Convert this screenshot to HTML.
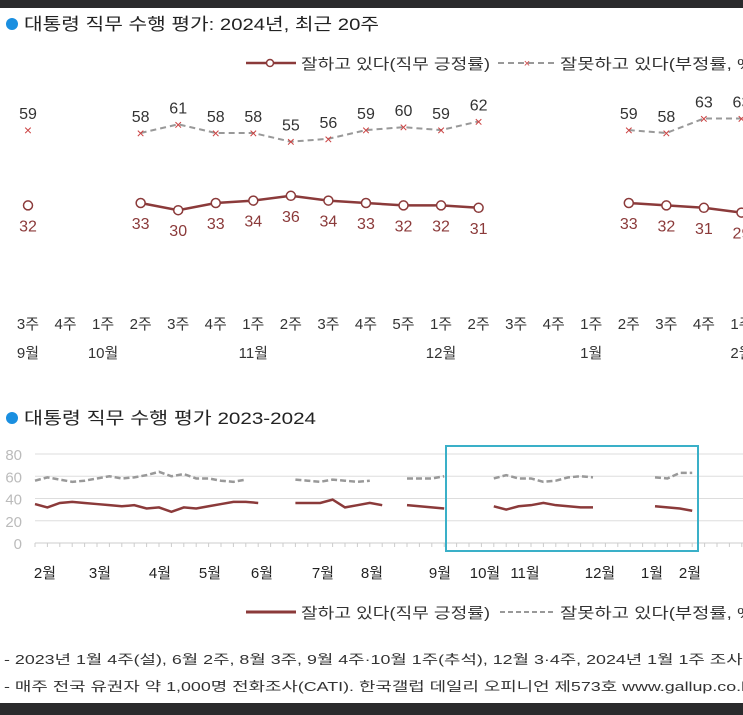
<!DOCTYPE html>
<html><head><meta charset="utf-8"><style>
body{margin:0;width:743px;height:715px;overflow:hidden;background:#fff;font-family:"Liberation Sans","Noto Sans CJK KR",sans-serif;}
svg{display:block}
</style></head><body>
<svg id="s" width="743" height="715" font-family="Liberation Sans, Noto Sans CJK KR, sans-serif">
<rect x="0" y="0" width="743" height="8" fill="#2a2a2c"/>
<rect x="0" y="703" width="743" height="12" fill="#2a2a2c"/>
<circle cx="12" cy="24" r="6" fill="#1a8fe0"/>
<text x="24" y="30" font-size="17" fill="#222" textLength="355" lengthAdjust="spacingAndGlyphs">대통령 직무 수행 평가: 2024년, 최근 20주</text>
<g>
<line x1="246" y1="63" x2="296" y2="63" stroke="#8b3a3a" stroke-width="2.5"/>
<circle cx="270" cy="63" r="3.5" fill="#fff" stroke="#8b3a3a" stroke-width="1.5"/>
<text x="301" y="69" font-size="15" fill="#333" textLength="189" lengthAdjust="spacingAndGlyphs">잘하고 있다(직무 긍정률)</text>
<line x1="498" y1="63" x2="556" y2="63" stroke="#999" stroke-width="2" stroke-dasharray="6,4"/>
<text x="527" y="67" font-size="11" fill="#c44" text-anchor="middle">×</text>
<text x="560" y="69" font-size="15" fill="#333" textLength="200" lengthAdjust="spacingAndGlyphs">잘못하고 있다(부정률, %)</text>
</g>
<g id="topG"></g>
<circle cx="12" cy="418" r="6" fill="#1a8fe0"/>
<text x="24" y="424" font-size="17" fill="#222" textLength="292" lengthAdjust="spacingAndGlyphs">대통령 직무 수행 평가 2023-2024</text>
<g id="bot"></g>
<rect x="446" y="446" width="252" height="105" fill="none" stroke="#3ab0c8" stroke-width="2"/>
<g>
<line x1="246" y1="612" x2="296" y2="612" stroke="#8b3a3a" stroke-width="3"/>
<text x="301" y="618" font-size="15" fill="#333" textLength="189" lengthAdjust="spacingAndGlyphs">잘하고 있다(직무 긍정률)</text>
<line x1="500" y1="612" x2="556" y2="612" stroke="#999" stroke-width="2" stroke-dasharray="5,3"/>
<text x="560" y="618" font-size="15" fill="#333" textLength="200" lengthAdjust="spacingAndGlyphs">잘못하고 있다(부정률, %)</text>
</g>
<text x="4" y="664" font-size="13" fill="#333" textLength="760" lengthAdjust="spacingAndGlyphs">- 2023년 1월 4주(설), 6월 2주, 8월 3주, 9월 4주·10월 1주(추석), 12월 3·4주, 2024년 1월 1주 조사 쉼</text>
<text x="4" y="691" font-size="13" fill="#333" textLength="752" lengthAdjust="spacingAndGlyphs">- 매주 전국 유권자 약 1,000명 전화조사(CATI). 한국갤럽 데일리 오피니언 제573호 www.gallup.co.kr</text>
</svg>
<script>
const weeks=["3주","4주","1주","2주","3주","4주","1주","2주","3주","4주","5주","1주","2주","3주","4주","1주","2주","3주","4주","1주"];
const months=[["9월",0],["10월",2],["11월",6],["12월",11],["1월",15],["2월",19]];
const approve=[32,null,null,33,30,33,34,36,34,33,32,32,31,null,null,null,33,32,31,29];
const disapprove=[59,null,null,58,61,58,58,55,56,59,60,59,62,null,null,null,59,58,63,63];
const approve2=[35,32,36,37,36,35,34,33,34,31,32,28,32,31,33,35,37,37,36,null,null,36,36,36,39,32,34,36,34,null,34,33,32,31,null,null,null,33,30,33,34,36,34,33,32,32,null,null,null,null,33,32,31,29];
const disapprove2=[56,59,57,55,56,58,60,58,59,61,64,60,62,58,58,56,55,57,null,null,null,57,56,55,57,56,55,56,null,null,58,58,58,60,null,null,null,58,61,58,58,55,56,59,60,59,null,null,null,null,59,58,63,63];
const yTicks=[0,20,40,60,80];
const bMonths=[["2월",45],["3월",100],["4월",160],["5월",210],["6월",262],["7월",323],["8월",372],["9월",440],["10월",485],["11월",525],["12월",600],["1월",652],["2월",690]];
const NS="http://www.w3.org/2000/svg";
function mk(p,t,a){const e=document.createElementNS(NS,t);for(const k in a)e.setAttribute(k,a[k]);p.appendChild(e);return e;}
const topG=document.getElementById('topG');
const tx=i=>28+37.55*i;
const ya=v=>203-(v-33)*2.4;
const yd=v=>133-(v-58)*2.9;
function segs(arr,fx,fy){const out=[];let cur=[];arr.forEach((v,i)=>{if(v==null){if(cur.length)out.push(cur);cur=[];}else cur.push([fx(i),fy(v)]);});if(cur.length)out.push(cur);return out;}
segs(approve,tx,ya).forEach(s=>{if(s.length>1){const l=mk(topG,'polyline',{points:s.map(p=>p.join(',')).join(' '),fill:'none',stroke:'#8b3a3a','stroke-width':2.5});

}});
segs(disapprove,tx,yd).forEach(s=>{if(s.length>1){const l=mk(topG,'polyline',{points:s.map(p=>p.join(',')).join(' '),fill:'none',stroke:'#999','stroke-width':2,'stroke-dasharray':'6,4'});

}});
approve.forEach((v,i)=>{if(v==null)return;const c=mk(topG,'circle',{cx:tx(i),cy:ya(v),r:4.5,fill:'#fff',stroke:'#8b3a3a','stroke-width':1.5});


const t=mk(topG,'text',{x:tx(i),y:ya(v)+26,'font-size':16,fill:'#8b3a3a','text-anchor':'middle'});t.textContent=v;

});
disapprove.forEach((v,i)=>{if(v==null)return;const c=mk(topG,'text',{x:tx(i),y:yd(v)+5,'font-size':14,fill:'#c44','text-anchor':'middle'});c.textContent='×';


const t=mk(topG,'text',{x:tx(i),y:yd(v)-11,'font-size':16,fill:'#333','text-anchor':'middle'});t.textContent=v;

});
weeks.forEach((w,i)=>{const t=mk(topG,'text',{x:tx(i),y:329,'font-size':15,fill:'#333','text-anchor':'middle'});t.textContent=w;

});
months.forEach(m=>{const t=mk(topG,'text',{x:tx(m[1]),y:358,'font-size':15,fill:'#333','text-anchor':'middle'});t.textContent=m[0];

});
const bot=document.getElementById('bot');
const bx=i=>35+12.4*i;
const by=v=>543-v*1.1125;
yTicks.forEach(v=>{const l=mk(bot,'line',{x1:35,x2:743,y1:by(v),y2:by(v),stroke:v==0?'#ccc':'#ddd','stroke-width':1});


const t=mk(bot,'text',{x:22,y:by(v)+6,'font-size':15,fill:'#bbb','text-anchor':'end'});t.textContent=v;

});
for(let i=0;i<58;i++){const l=mk(bot,'line',{x1:bx(i),x2:bx(i),y1:by(0),y2:by(0)+4,stroke:'#ccc'});

}
segs(disapprove2,bx,by).forEach(s=>{const l=mk(bot,'polyline',{points:s.map(p=>p.join(',')).join(' '),fill:'none',stroke:'#999','stroke-width':2.5,'stroke-dasharray':'6,3'});

});
segs(approve2,bx,by).forEach(s=>{const l=mk(bot,'polyline',{points:s.map(p=>p.join(',')).join(' '),fill:'none',stroke:'#8b3a3a','stroke-width':2.5});

});
bMonths.forEach(m=>{const t=mk(bot,'text',{x:m[1],y:578,'font-size':15,fill:'#222','text-anchor':'middle'});t.textContent=m[0];

});
</script>
</body></html>
